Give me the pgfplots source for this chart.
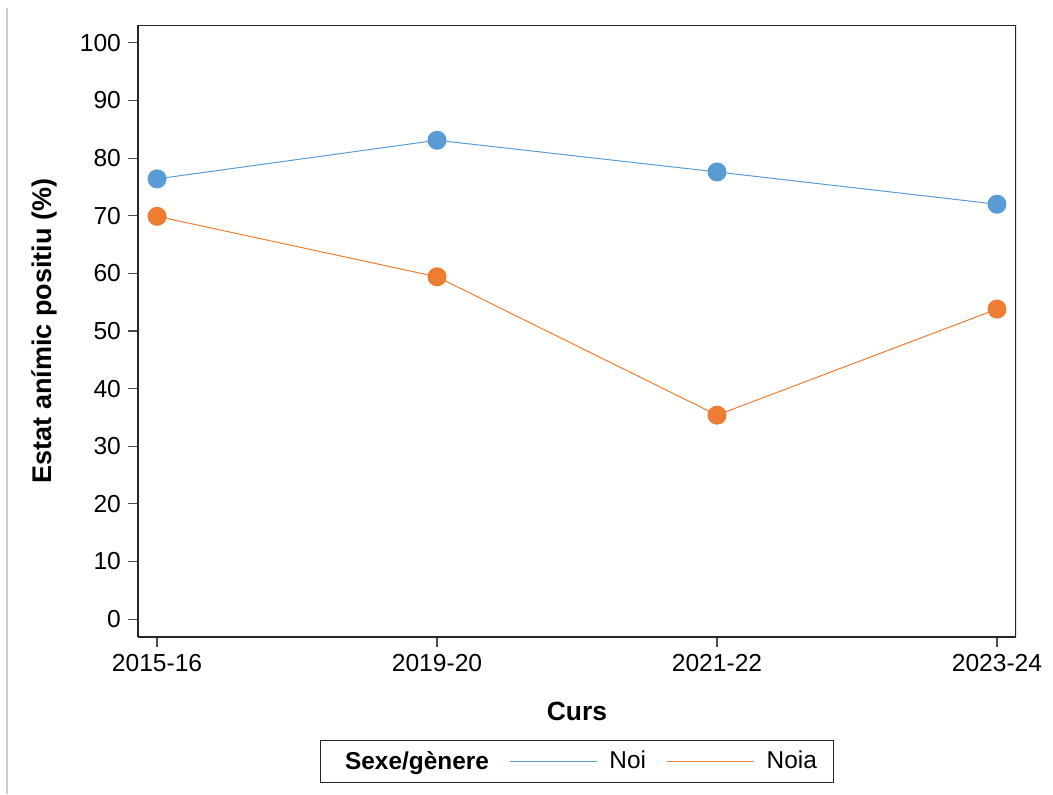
\documentclass[border=0pt]{standalone}
\usepackage{fontspec}
\setmainfont{Liberation Sans}
\usepackage{pgfplots}
\pgfplotsset{compat=1.18}
\definecolor{noi}{HTML}{5B9BD5}
\definecolor{noia}{HTML}{ED7D31}
\begin{document}
\begin{tikzpicture}
\useasboundingbox (-69pt,-78.5pt) rectangle (457.5pt,318.5pt);
\draw[black!20, line width=0.6pt] (-65.5pt,-78.5pt) -- (-65.5pt,314.5pt);
\begin{axis}[
    at={(0,0)}, anchor=south west,
    scale only axis,
    width=439pt, height=306pt,
    xmin=-0.068, xmax=3.068,
    ymin=-3.1, ymax=103.1,
    xtick={0,1,2,3},
    xticklabels={2015-16,2019-20,2021-22,2023-24},
    ytick={0,10,...,100},
    tick align=outside,
    major tick length=5pt,
    tick style={black!70, line width=0.6pt},
    axis line style={black!85, line width=0.6pt},
    axis x line*=bottom, axis y line*=left,
    font=\fontsize{12.3}{14}\selectfont,
    /pgf/number format/assume math mode=true,
    xlabel={\textbf{Curs}},
    ylabel={\textbf{Estat anímic positiu (\%)}},
    xlabel style={at={(axis description cs:0.5,-0.121)}, anchor=center, font=\fontsize{13.2}{15}\selectfont},
    ylabel style={at={(axis description cs:-0.107,0.5)}, anchor=center, font=\fontsize{13.5}{15}\selectfont},
    legend columns=3,
    legend style={at={(axis description cs:0.5,-0.2035)}, anchor=center,
        draw=none, name=leg, font=\fontsize{12.2}{14}\selectfont,
        /tikz/every even column/.append style={column sep=8pt},
        /tikz/every odd column/.append style={column sep=4pt},
        inner xsep=6pt, inner ysep=3pt},
    legend cell align=left,
]
\addlegendimage{empty legend}
\addlegendentry{\textbf{Sexe/gènere}\hspace{11pt}}
\addplot[noi, line width=0.5pt, mark=*, mark size=4.5pt, mark options={fill=noi, draw=noi},
    legend image code/.code={\draw[noi, line width=0.8pt] (0pt,0pt) -- (43.5pt,0pt);}]
coordinates {(0,76.4) (1,83.1) (2,77.6) (3,72.0)};
\addlegendentry{Noi\hspace{3pt}}
\addplot[noia, line width=0.5pt, mark=*, mark size=4.5pt, mark options={fill=noia, draw=noia},
    legend image code/.code={\draw[noia, line width=0.8pt] (0pt,0pt) -- (43.5pt,0pt);}]
coordinates {(0,69.9) (1,59.4) (2,35.4) (3,53.8)};
\addlegendentry{Noia}
\draw[black!85, line width=0.6pt] (rel axis cs:0,1) -- (rel axis cs:1,1) -- (rel axis cs:1,0);
\end{axis}
\draw[black!85, line width=0.6pt] (leg.south west) rectangle (leg.north east);
\end{tikzpicture}
\end{document}
